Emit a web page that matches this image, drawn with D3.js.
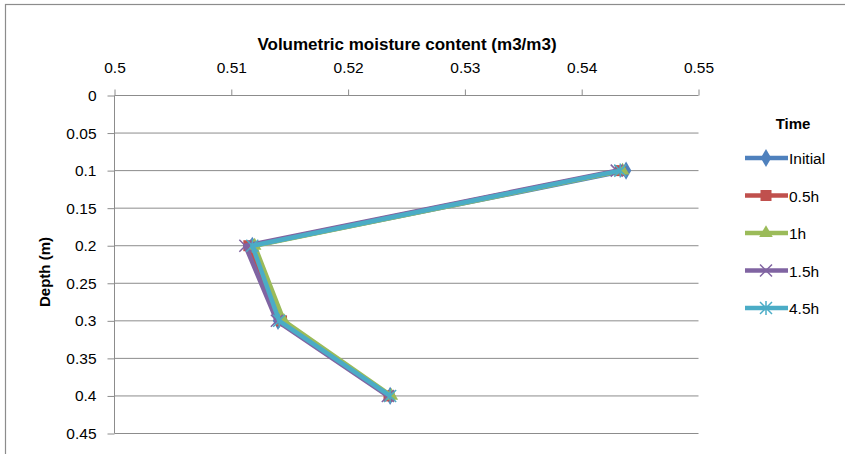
<!DOCTYPE html>
<html>
<head>
<meta charset="utf-8">
<script src="https://cdn.jsdelivr.net/npm/d3@7"></script>
<style>
  body { margin: 0; background: #fff; }
  text { font-family: "Liberation Sans", Arial, sans-serif; }
</style>
</head>
<body>
<svg id="chart"></svg>
<script>
// data
var depths = [0.1, 0.2, 0.3, 0.4];
var seriesNames = ["Initial", "0.5h", "1h", "1.5h", "4.5h"];
var initial = [0.5438, 0.5118, 0.5140, 0.5236];
var h05 = [0.5433, 0.5115, 0.5143, 0.5235];
var h1 = [0.5435, 0.5120, 0.5145, 0.5237];
var h15 = [0.5430, 0.5112, 0.5139, 0.5234];
var h45 = [0.5433, 0.5118, 0.5141, 0.5236];
var xTicks = [0.5, 0.51, 0.52, 0.53, 0.54, 0.55];
var yTicks = [0, 0.05, 0.1, 0.15, 0.2, 0.25, 0.3, 0.35, 0.4, 0.45];

var allValues = [initial, h05, h1, h15, h45];
var colors = ["#4F81BD", "#C0504D", "#9BBB59", "#8064A2", "#4BACC6"];
var markers = ["diamond", "square", "triangle", "x", "star"];

var width = 845, height = 454;
var svg = d3.select("#chart").attr("width", width).attr("height", height);

// outer frame
svg.append("rect")
    .attr("x", 5.5).attr("y", 4.5)
    .attr("width", 845).attr("height", 460)
    .attr("fill", "none").attr("stroke", "#8c8c8c").attr("stroke-width", 1.2);

var x = d3.scaleLinear().domain([0.5, 0.55]).range([114.5, 698.5]);
var y = d3.scaleLinear().domain([0, 0.45]).range([95.5, 433.5]);

// horizontal grid
svg.append("g").selectAll("line")
    .data(yTicks.slice(1))
    .enter().append("line")
    .attr("x1", x(0.5)).attr("x2", x(0.55))
    .attr("y1", function(d) { return y(d); })
    .attr("y2", function(d) { return y(d); })
    .attr("stroke", "#8c8c8c").attr("stroke-width", 1);

// top x axis
var xAxis = svg.append("g")
    .attr("transform", "translate(0," + y(0) + ")")
    .call(d3.axisTop(x).tickValues(xTicks).tickSize(6).tickPadding(17)
        .tickFormat(function(d) { return d3.format("")(+d.toFixed(2)); }));
xAxis.select(".domain").attr("stroke", "#8c8c8c").attr("d", "M" + x(0.5) + ",0H" + x(0.55));

// left y axis
var yAxis = svg.append("g")
    .attr("transform", "translate(" + x(0.5) + ",0)")
    .call(d3.axisLeft(y).tickValues(yTicks).tickSize(7).tickPadding(11)
        .tickFormat(function(d) { return d3.format("")(+d.toFixed(2)); }));
yAxis.select(".domain").attr("stroke", "#8c8c8c").attr("d", "M0," + y(0) + "V" + y(0.45));

svg.selectAll(".tick line").attr("stroke", "#8c8c8c");
svg.selectAll(".tick text")
    .style("font-size", "15.5px").style("font-family", "'Liberation Sans', Arial, sans-serif")
    .attr("fill", "#000");
xAxis.selectAll(".tick text").attr("dy", "0");

// axis titles
svg.append("text")
    .attr("x", 407).attr("y", 50)
    .attr("text-anchor", "middle")
    .style("font-size", "17px").style("font-weight", "bold")
    .text("Volumetric moisture content (m3/m3)");

svg.append("text")
    .attr("transform", "translate(50,272) rotate(-90)")
    .attr("text-anchor", "middle")
    .style("font-size", "15px").style("font-weight", "bold")
    .text("Depth (m)");

// marker drawing
function drawMarker(g, type, color, cx, cy) {
    if (type === "diamond") {
        g.append("path").attr("d", d3.symbol(d3.symbolDiamond, 95)())
            .attr("transform", "translate(" + cx + "," + cy + ")").attr("fill", color);
    } else if (type === "square") {
        g.append("rect").attr("x", cx - 5.5).attr("y", cy - 5.5).attr("width", 11).attr("height", 11)
            .attr("fill", color);
    } else if (type === "triangle") {
        g.append("path").attr("d", d3.symbol(d3.symbolTriangle, 80)())
            .attr("transform", "translate(" + cx + "," + cy + ")").attr("fill", color);
    } else if (type === "x") {
        g.append("path").attr("d", "M-6,-6L6,6M-6,6L6,-6")
            .attr("transform", "translate(" + cx + "," + cy + ")")
            .attr("stroke", color).attr("stroke-width", 1.5).attr("fill", "none");
    } else {
        g.append("path").attr("d", "M-6,-6L6,6M-6,6L6,-6M0,-7V7")
            .attr("transform", "translate(" + cx + "," + cy + ")")
            .attr("stroke", color).attr("stroke-width", 1.5).attr("fill", "none");
    }
}

var line = d3.line()
    .x(function(d) { return x(d[0]); })
    .y(function(d) { return y(d[1]); });

allValues.forEach(function(vals, i) {
    var pts = vals.map(function(v, j) { return [v, depths[j]]; });
    var g = svg.append("g");
    g.append("path").datum(pts)
        .attr("d", line)
        .attr("fill", "none")
        .attr("stroke", colors[i])
        .attr("stroke-width", 4.5)
        .attr("stroke-linejoin", "round");
    pts.forEach(function(p) {
        drawMarker(g, markers[i], colors[i], x(p[0]), y(p[1]));
    });
});

// legend
var legend = svg.append("g");
legend.append("text")
    .attr("x", 793).attr("y", 129)
    .attr("text-anchor", "middle")
    .style("font-size", "15px").style("font-weight", "bold")
    .text("Time");

seriesNames.forEach(function(name, i) {
    var ly = 158 + i * 37.5;
    legend.append("line")
        .attr("x1", 745).attr("x2", 788)
        .attr("y1", ly).attr("y2", ly)
        .attr("stroke", colors[i]).attr("stroke-width", 4.5);
    drawMarker(legend, markers[i], colors[i], 766, ly);
    legend.append("text")
        .attr("x", 789).attr("y", ly + 6)
        .style("font-size", "15.5px")
        .text(name);
});
</script>
</body>
</html>
